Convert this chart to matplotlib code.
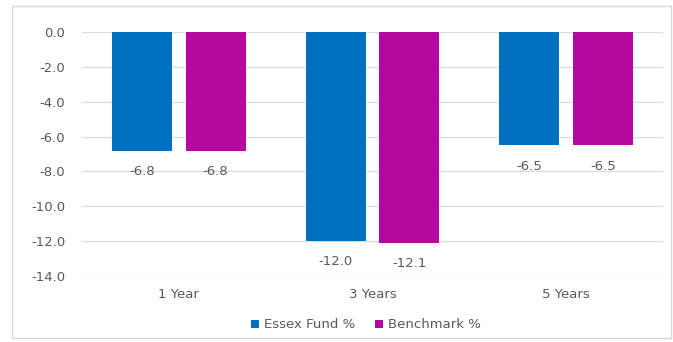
import matplotlib
matplotlib.use("Agg")
import matplotlib.pyplot as plt
from matplotlib.patches import Rectangle
import numpy as np

categories = ["1 Year", "3 Years", "5 Years"]
fund = [-6.8, -12.0, -6.5]
bench = [-6.8, -12.1, -6.5]
series_names = ["Essex Fund %", "Benchmark %"]
yticks = [0.0, -2.0, -4.0, -6.0, -8.0, -10.0, -12.0, -14.0]

blue = "#0070C0"
magenta = "#B4089E"
txt = "#595959"
fs = 9.5

fig = plt.figure(figsize=(6.73, 3.42), dpi=100)
fig.patches.append(Rectangle((12/673, 4/342), 1 - 14/673, 1 - 10/342, transform=fig.transFigure,
                             fill=False, edgecolor="#D9D9D9", linewidth=1.0))
ax = fig.add_axes([82/673, 1 - 276/342, (663 - 82)/673, (276 - 32)/342])

x = np.arange(len(categories))
w = 0.31
off = 0.19
b1 = ax.bar(x - off, fund, w, color=blue, label=series_names[0], zorder=3)
b2 = ax.bar(x + off, bench, w, color=magenta, label=series_names[1], zorder=3)

for bars, vals in ((b1, fund), (b2, bench)):
    for r, v in zip(bars, vals):
        ax.annotate(f"{v:.1f}", (r.get_x() + r.get_width()/2, v), xytext=(0, -15),
                    textcoords="offset points", ha="center", va="center",
                    fontsize=fs, color=txt)

ax.set_ylim(-14, 0)
ax.set_xlim(-0.5, len(categories) - 0.5)
ax.set_yticks(yticks)
ax.set_yticklabels([f"{t:.1f}" for t in yticks])
ax.set_xticks(x)
ax.set_xticklabels(categories)
ax.tick_params(axis="both", length=0, colors=txt, labelsize=fs)
ax.tick_params(axis="y", pad=12)
ax.tick_params(axis="x", pad=9)
ax.grid(axis="y", color="#D9D9D9", linewidth=0.8, zorder=0)
for s in ax.spines.values():
    s.set_visible(False)

leg = fig.legend(handles=[b1, b2], loc="center", bbox_to_anchor=(366/673, 1 - 325/342),
                 ncol=2, frameon=False, fontsize=fs, handlelength=0.6, handleheight=0.6,
                 handletextpad=0.4, columnspacing=1.5)
for t in leg.get_texts():
    t.set_color(txt)

fig.savefig("out.png", dpi=100)
